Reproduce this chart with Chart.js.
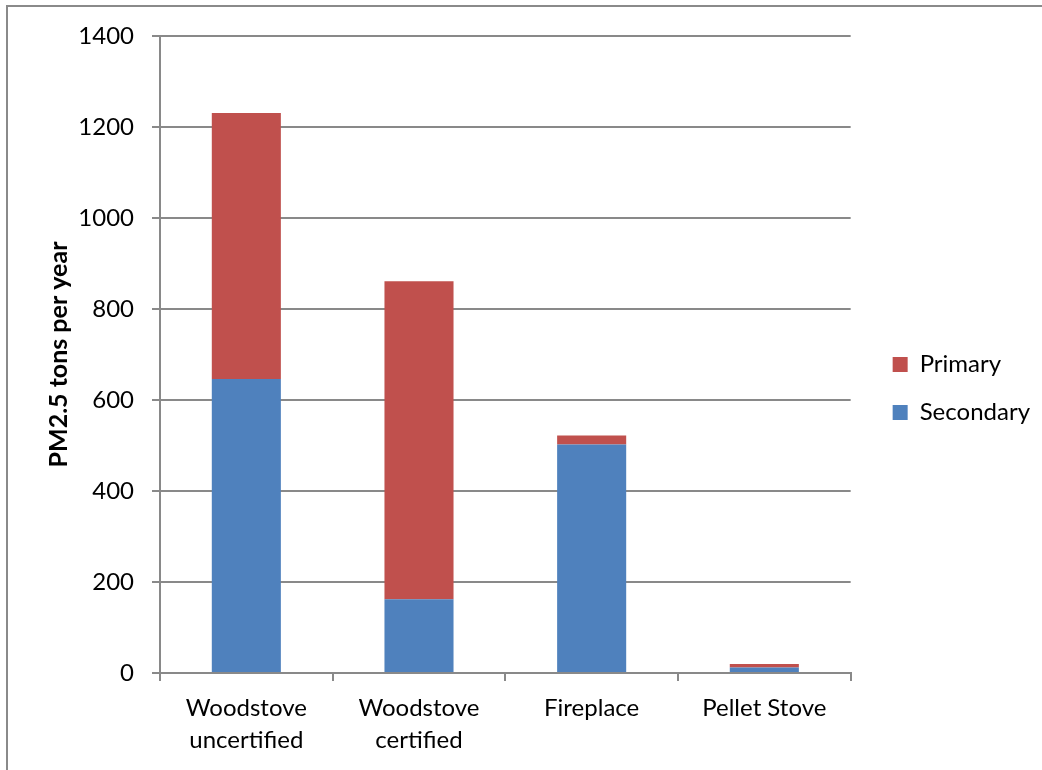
<!DOCTYPE html>
<html>
<head>
<meta charset="utf-8">
<title>PM2.5 emissions by appliance</title>
<script src="https://cdn.jsdelivr.net/npm/chart.js@4/dist/chart.umd.min.js"></script>
<style>
    html, body { margin: 0; padding: 0; background: #fff; }
    canvas { display: block; }
</style>
</head>
<body>
<canvas id="pmChart" width="1042" height="770"></canvas>
<script>
// Appliance categories (multi-line labels)
const categories = [
    ['Woodstove', 'uncertified'],
    ['Woodstove', 'certified'],
    'Fireplace',
    'Pellet Stove'
];

// PM2.5 tons per year
const secondaryValues = [646, 162, 502, 12];
const primaryValues = [585, 699, 20, 8];

const yTicks = [0, 200, 400, 600, 800, 1000, 1200, 1400];

const FONT = 'Lato, "Open Sans", sans-serif';
const GRID = '#898989';

// thin frame along the top and left edges
const framePlugin = {
    id: 'frame',
    beforeDraw(chart) {
        const ctx = chart.ctx;
        ctx.save();
        ctx.strokeStyle = '#8a8a8a';
        ctx.lineWidth = 2;
        ctx.beginPath();
        ctx.moveTo(7, chart.height);
        ctx.lineTo(7, 6);
        ctx.lineTo(chart.width, 6);
        ctx.stroke();
        ctx.restore();
    }
};

// push the legend a little away from the plot and lift it slightly
const legendShift = {
    id: 'legendShift',
    afterLayout(chart) {
        const lg = chart.legend;
        if (lg) {
            lg.left += 18;
            lg.right += 18;
            lg.top -= 12;
            lg.bottom -= 12;
        }
    }
};

function initializeChart() {
    const canvas = document.getElementById('pmChart');

    new Chart(canvas, {
        type: 'bar',
        data: {
            labels: categories,
            datasets: [
                {
                    label: 'Secondary',
                    data: secondaryValues,
                    backgroundColor: '#4F81BD',
                    borderWidth: 0
                },
                {
                    label: 'Primary',
                    data: primaryValues,
                    backgroundColor: '#C0504D',
                    borderWidth: 0
                }
            ]
        },
        options: {
            responsive: false,
            animation: false,
            layout: {
                padding: { top: 36, left: 0, right: 20, bottom: 5 }
            },
            datasets: {
                bar: {
                    categoryPercentage: 1,
                    barPercentage: 0.4
                }
            },
            scales: {
                x: {
                    stacked: true,
                    offset: true,
                    grid: {
                        offset: true,
                        drawOnChartArea: false,
                        color: GRID,
                        lineWidth: 2,
                        tickLength: 8
                    },
                    border: { color: GRID, width: 2 },
                    ticks: {
                        color: '#000',
                        padding: 11,
                        maxRotation: 0,
                        autoSkip: false,
                        font: { family: FONT, size: 24, lineHeight: 1.33 }
                    },
                    afterFit(scale) {
                        scale.height = 92;
                    }
                },
                y: {
                    stacked: true,
                    min: 0,
                    max: 1400,
                    afterBuildTicks(scale) {
                        scale.ticks = yTicks.map(v => ({ value: v }));
                    },
                    grid: {
                        color: GRID,
                        lineWidth: 2,
                        tickLength: 8
                    },
                    border: { color: GRID, width: 2 },
                    ticks: {
                        color: '#000',
                        padding: 18,
                        font: { family: FONT, size: 24 },
                        callback: v => String(v)
                    },
                    title: {
                        display: true,
                        text: 'PM2.5 tons per year',
                        color: '#000',
                        padding: { top: 44, bottom: 0 },
                        font: { family: FONT, size: 25, weight: 'bold' }
                    },
                    afterFit(scale) {
                        scale.width = 160;
                    }
                }
            },
            plugins: {
                legend: {
                    position: 'right',
                    reverse: true,
                    labels: {
                        color: '#000',
                        boxWidth: 15,
                        boxHeight: 15,
                        padding: 24,
                        font: { family: FONT, size: 24 }
                    }
                },
                tooltip: { enabled: false }
            }
        },
        plugins: [framePlugin, legendShift]
    });
}

document.addEventListener('DOMContentLoaded', initializeChart);
</script>
</body>
</html>
